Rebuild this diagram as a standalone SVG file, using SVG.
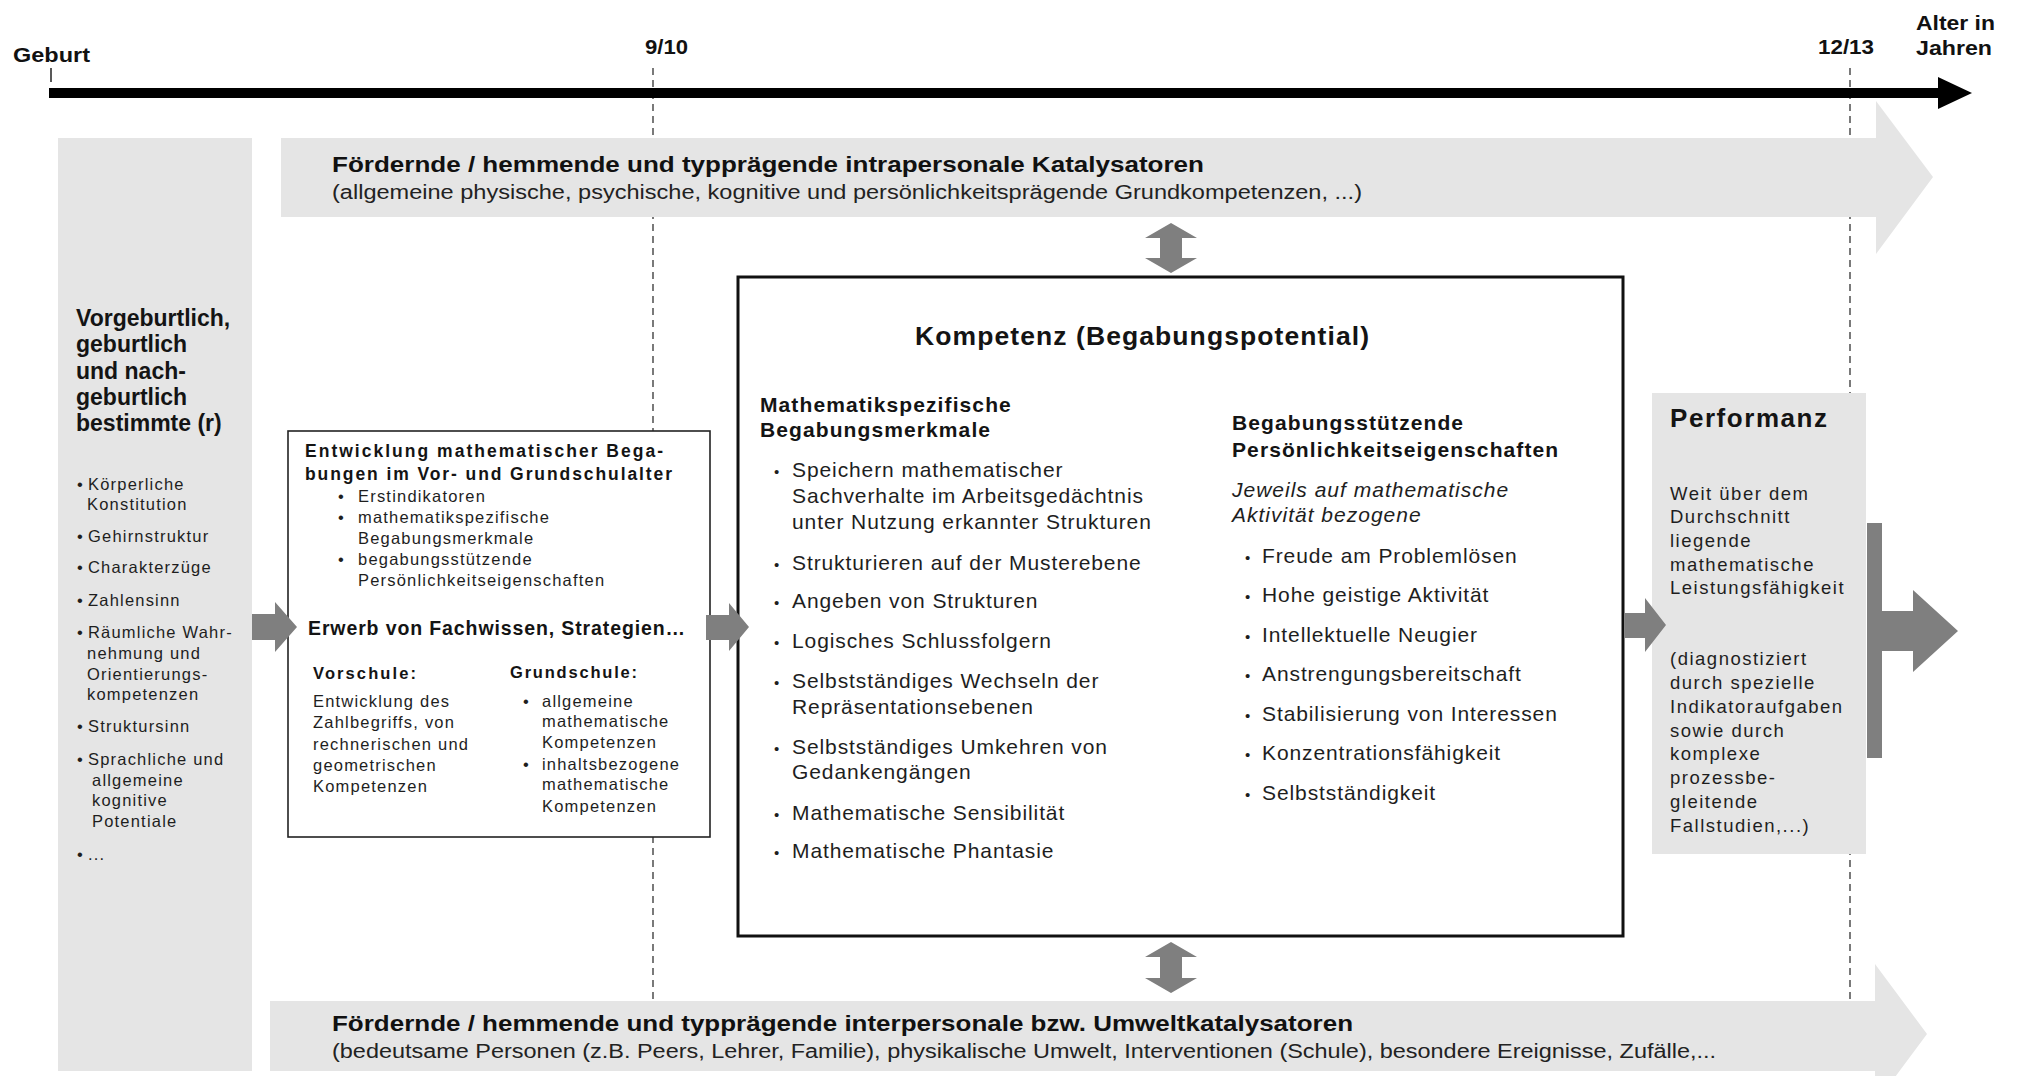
<svg xmlns="http://www.w3.org/2000/svg" width="2019" height="1076" viewBox="0 0 2019 1076">
<style>
text{font-family:"Liberation Sans",Arial,sans-serif;fill:#1e1e1e}
.nb{font-family:"Liberation Sans Narrow","Arial Narrow","Liberation Sans",sans-serif;font-weight:bold;fill:#111}
.nr{font-family:"Liberation Sans Narrow","Arial Narrow","Liberation Sans",sans-serif;fill:#222}
.b{font-weight:bold;fill:#141414}
.lb{font-size:23px}
.ls{font-size:16.5px;letter-spacing:1.2px}
.en{font-size:16.5px;letter-spacing:1.2px}
.kb{font-size:21px;letter-spacing:1.1px}
.kt{font-size:21px;letter-spacing:0.9px}
.ki{font-size:21px;letter-spacing:1px;font-style:italic}
.pf{font-size:18.5px;letter-spacing:1.5px}
.grey{fill:#e5e5e5}
.dark{fill:#7f7f7f}
.dash{stroke:#333;stroke-width:1.3;stroke-dasharray:7 5;fill:none}
.tick{stroke:#222;stroke-width:1.5}
</style>

<g id="timeline">
<line class="dash" x1="653" y1="68" x2="653" y2="1000"/>
<line class="dash" x1="1850" y1="68" x2="1850" y2="1000"/>
<line class="tick" x1="51" y1="68" x2="51" y2="82"/>
<rect x="49" y="88" width="1892" height="10" fill="#000"/>
<polygon points="1938,77 1972,93 1938,109" fill="#000"/>
<text class="nb" x="13" y="62" font-size="21" textLength="77" lengthAdjust="spacingAndGlyphs">Geburt</text>
<text class="nb" x="645" y="54" font-size="21" textLength="43" lengthAdjust="spacingAndGlyphs">9/10</text>
<text class="nb" x="1818" y="54" font-size="21" textLength="56" lengthAdjust="spacingAndGlyphs">12/13</text>
<text class="nb" x="1916" y="30" font-size="21" textLength="79" lengthAdjust="spacingAndGlyphs">Alter in</text>
<text class="nb" x="1916" y="55" font-size="21" textLength="76" lengthAdjust="spacingAndGlyphs">Jahren</text>
</g>

<g id="intrapersonal">
<polygon class="grey" points="281,138 1876,138 1876,101 1933,177 1876,254 1876,217 281,217"/>
<text class="nb" x="332" y="172" font-size="22" textLength="872" lengthAdjust="spacingAndGlyphs">Fördernde / hemmende und typprägende intrapersonale Katalysatoren</text>
<text class="nr" x="332" y="199" font-size="20" textLength="1030" lengthAdjust="spacingAndGlyphs">(allgemeine  physische, psychische,  kognitive  und  persönlichkeitsprägende  Grundkompetenzen,  ...)</text>
</g>

<g id="umwelt">
<polygon class="grey" points="270,1001 1875,1001 1875,964 1927,1034 1875,1104 1875,1071 270,1071"/>
<text class="nb" x="332" y="1031" font-size="22" textLength="1021" lengthAdjust="spacingAndGlyphs">Fördernde / hemmende und typprägende interpersonale bzw. Umweltkatalysatoren</text>
<text class="nr" x="332" y="1058" font-size="20" textLength="1384" lengthAdjust="spacingAndGlyphs">(bedeutsame Personen (z.B. Peers, Lehrer, Familie), physikalische Umwelt, Interventionen (Schule), besondere Ereignisse, Zufälle,...</text>
</g>

<g id="anlagen">
<rect class="grey" x="58" y="138" width="194" height="933"/>
<text class="b lb" x="76"><tspan x="76" y="326">Vorgeburtlich,</tspan><tspan x="76" y="352">geburtlich</tspan><tspan x="76" y="379">und nach-</tspan><tspan x="76" y="405">geburtlich</tspan><tspan x="76" y="431">bestimmte (r)</tspan></text>
<g class="ls">
<text x="77" y="490">•</text><text x="88" y="490">Körperliche</text><text x="87" y="510">Konstitution</text>
<text x="77" y="542">•</text><text x="88" y="542">Gehirnstruktur</text>
<text x="77" y="573">•</text><text x="88" y="573">Charakterzüge</text>
<text x="77" y="606">•</text><text x="88" y="606">Zahlensinn</text>
<text x="77" y="638">•</text><text x="88" y="638">Räumliche Wahr-</text>
<text x="87" y="659">nehmung und</text><text x="87" y="680">Orientierungs-</text><text x="87" y="700">kompetenzen</text>
<text x="77" y="732">•</text><text x="88" y="732">Struktursinn</text>
<text x="77" y="765">•</text><text x="88" y="765">Sprachliche und</text>
<text x="92" y="786">allgemeine</text><text x="92" y="806">kognitive</text><text x="92" y="827">Potentiale</text>
<text x="77" y="860">•</text><text x="88" y="860">...</text>
</g>
</g>

<g id="entwicklung">
<rect x="288" y="431" width="422" height="406" fill="#fff" stroke="#222" stroke-width="1.6"/>
<text class="b" x="305" y="457" font-size="17.5" textLength="358">Entwicklung mathematischer Bega-</text>
<text class="b" x="305" y="480" font-size="17.5" textLength="367">bungen im Vor- und Grundschulalter</text>
<g class="en">
<text x="338" y="502">•</text><text x="358" y="502">Erstindikatoren</text>
<text x="338" y="523">•</text><text x="358" y="523">mathematikspezifische</text>
<text x="358" y="544">Begabungsmerkmale</text>
<text x="338" y="565">•</text><text x="358" y="565">begabungsstützende</text>
<text x="358" y="586">Persönlichkeitseigenschaften</text>
</g>
<text class="b" x="308" y="635" font-size="19.5" textLength="377">Erwerb von Fachwissen, Strategien…</text>
<text class="b" x="313" y="679" font-size="16.5" textLength="103">Vorschule:</text>
<text class="b" x="510" y="678" font-size="16.5" textLength="127">Grundschule:</text>
<g class="en">
<text x="313" y="707">Entwicklung des</text>
<text x="313" y="728">Zahlbegriffs, von</text>
<text x="313" y="750">rechnerischen und</text>
<text x="313" y="771">geometrischen</text>
<text x="313" y="792">Kompetenzen</text>
<text x="523" y="707">•</text><text x="542" y="707">allgemeine</text>
<text x="542" y="727">mathematische</text>
<text x="542" y="748">Kompetenzen</text>
<text x="523" y="770">•</text><text x="542" y="770">inhaltsbezogene</text>
<text x="542" y="790">mathematische</text>
<text x="542" y="812">Kompetenzen</text>
</g>
</g>

<g id="kompetenz">
<rect x="738" y="277" width="885" height="659" fill="#fff" stroke="#111" stroke-width="3"/>
<text class="b" x="915" y="345" font-size="26.5" textLength="454">Kompetenz (Begabungspotential)</text>
<text class="b kb" x="760" y="412">Mathematikspezifische</text>
<text class="b kb" x="760" y="437">Begabungsmerkmale</text>
<g class="kt">
<text x="774" y="477" font-size="15">•</text><text x="792" y="477">Speichern mathematischer</text>
<text x="792" y="503">Sachverhalte im Arbeitsgedächtnis</text>
<text x="792" y="529">unter Nutzung erkannter Strukturen</text>
<text x="774" y="570" font-size="15">•</text><text x="792" y="570">Strukturieren auf der Musterebene</text>
<text x="774" y="608" font-size="15">•</text><text x="792" y="608">Angeben von Strukturen</text>
<text x="774" y="648" font-size="15">•</text><text x="792" y="648">Logisches Schlussfolgern</text>
<text x="774" y="688" font-size="15">•</text><text x="792" y="688">Selbstständiges Wechseln der</text>
<text x="792" y="714">Repräsentationsebenen</text>
<text x="774" y="754" font-size="15">•</text><text x="792" y="754">Selbstständiges Umkehren von</text>
<text x="792" y="779">Gedankengängen</text>
<text x="774" y="820" font-size="15">•</text><text x="792" y="820">Mathematische Sensibilität</text>
<text x="774" y="858" font-size="15">•</text><text x="792" y="858">Mathematische Phantasie</text>
</g>
<text class="b kb" x="1232" y="430">Begabungsstützende</text>
<text class="b kb" x="1232" y="457">Persönlichkeitseigenschaften</text>
<text class="ki" x="1232" y="497">Jeweils auf mathematische</text>
<text class="ki" x="1232" y="522">Aktivität bezogene</text>
<g class="kt">
<text x="1245" y="563" font-size="15">•</text><text x="1262" y="563">Freude am Problemlösen</text>
<text x="1245" y="602" font-size="15">•</text><text x="1262" y="602">Hohe geistige Aktivität</text>
<text x="1245" y="642" font-size="15">•</text><text x="1262" y="642">Intellektuelle Neugier</text>
<text x="1245" y="681" font-size="15">•</text><text x="1262" y="681">Anstrengungsbereitschaft</text>
<text x="1245" y="721" font-size="15">•</text><text x="1262" y="721">Stabilisierung von Interessen</text>
<text x="1245" y="760" font-size="15">•</text><text x="1262" y="760">Konzentrationsfähigkeit</text>
<text x="1245" y="800" font-size="15">•</text><text x="1262" y="800">Selbstständigkeit</text>
</g>
</g>

<g id="performanz">
<rect class="grey" x="1652" y="393" width="214" height="461"/>
<text class="b" x="1670" y="427" font-size="26" textLength="157">Performanz</text>
<g class="pf">
<text x="1670" y="500">Weit über dem</text>
<text x="1670" y="523">Durchschnitt</text>
<text x="1670" y="547">liegende</text>
<text x="1670" y="571">mathematische</text>
<text x="1670" y="594">Leistungsfähigkeit</text>
<text x="1670" y="665">(diagnostiziert</text>
<text x="1670" y="689">durch spezielle</text>
<text x="1670" y="713">Indikatoraufgaben</text>
<text x="1670" y="737">sowie durch</text>
<text x="1670" y="760">komplexe</text>
<text x="1670" y="784">prozessbe-</text>
<text x="1670" y="808">gleitende</text>
<text x="1670" y="832">Fallstudien,...)</text>
</g>
</g>

<g id="connectors">
<polygon class="dark" points="252,614 275,614 275,602 297,627 275,652 275,640 252,640"/>
<polygon class="dark" points="706,615 729,615 729,603 749,627 729,651 729,640 706,640"/>
<polygon class="dark" points="1625,613 1645,613 1645,598 1666,625 1645,652 1645,638 1625,638"/>
<rect class="dark" x="1867" y="523" width="15" height="235"/>
<polygon class="dark" points="1882,611 1913,611 1913,590 1958,631 1913,672 1913,651 1882,651"/>
<polygon class="dark" points="1171,223 1197,238 1182,238 1182,258 1197,258 1171,273 1145,258 1160,258 1160,238 1145,238"/>
<polygon class="dark" points="1171,942 1197,957 1182,957 1182,978 1197,978 1171,993 1145,978 1160,978 1160,957 1145,957"/>
</g>
</svg>
